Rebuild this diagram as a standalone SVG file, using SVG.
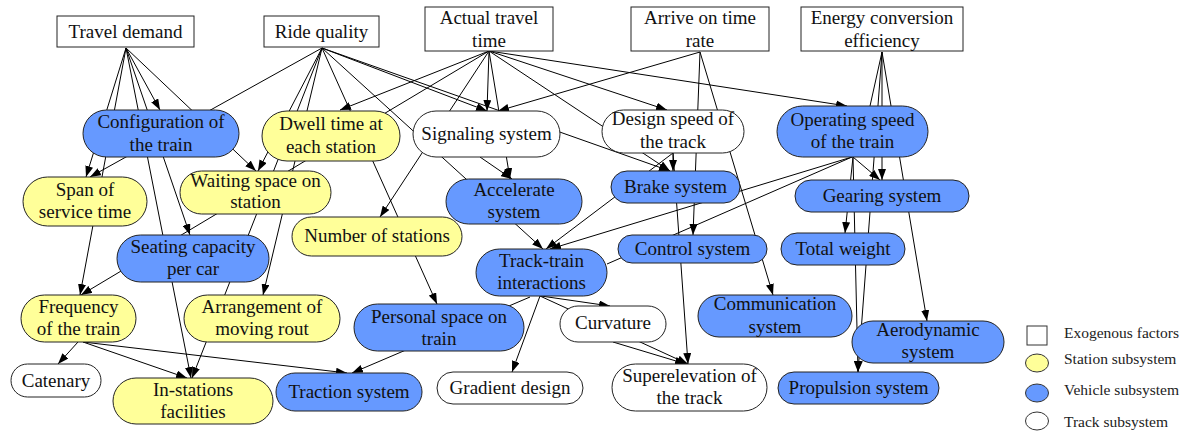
<svg xmlns="http://www.w3.org/2000/svg" width="1189" height="436" viewBox="0 0 1189 436">
<style>
  text { font-family: "Liberation Serif", "Times New Roman", serif; font-size: 19px; fill: #111; text-anchor: middle; }
  .node rect { stroke: #222; stroke-width: 1; }
  .exo { fill: #ffffff; }
  .blue { fill: #6699ff; }
  .yellow { fill: #ffff99; }
  .white { fill: #ffffff; }
  .edges line { stroke: #000; stroke-width: 1; fill: none; }
  .edges line.a { marker-end: url(#arrow); }
  .legend text { font-size: 15.5px; text-anchor: start; fill: #222; }
  .legend rect, .legend ellipse { stroke: #333; stroke-width: 1; }
</style>
<defs>
  <marker id="arrow" markerUnits="userSpaceOnUse" markerWidth="11" markerHeight="8" refX="11" refY="4" orient="auto">
    <path d="M0,0 L11,4 L0,8 z" fill="#000"/>
  </marker>
</defs>
<rect width="1189" height="436" fill="#ffffff"/>

<g id="connectors" class="edges">
  <!-- Travel demand -->
  <line class="a" x1="126" y1="48" x2="86" y2="177"/>
  <line class="a" x1="126" y1="48" x2="80" y2="295"/>
  <line class="a" x1="126" y1="48" x2="191" y2="378"/>
  <line class="a" x1="126" y1="48" x2="190" y2="235"/>
  <line class="a" x1="126" y1="48" x2="160" y2="110"/>
  <line class="a" x1="126" y1="48" x2="256" y2="171"/>
  <!-- Ride quality -->
  <line class="a" x1="322" y1="48" x2="90" y2="177"/>
  <line class="a" x1="322" y1="48" x2="258" y2="171"/>
  <line class="a" x1="322" y1="48" x2="263" y2="295"/>
  <line class="a" x1="322" y1="48" x2="192" y2="378"/>
  <line class="a" x1="322" y1="48" x2="437" y2="304"/>
  <line class="a" x1="322" y1="48" x2="543" y2="249"/>
  <line class="a" x1="322" y1="48" x2="670" y2="171"/>
  <line class="a" x1="322" y1="48" x2="487" y2="111"/>
  <!-- Actual travel time -->
  <line class="a" x1="489" y1="51" x2="340" y2="110"/>
  <line class="a" x1="489" y1="51" x2="81" y2="295"/>
  <line class="a" x1="489" y1="51" x2="380" y2="217"/>
  <line class="a" x1="489" y1="51" x2="487" y2="111"/>
  <line class="a" x1="489" y1="51" x2="510" y2="179"/>
  <line class="a" x1="489" y1="51" x2="667" y2="110"/>
  <line class="a" x1="489" y1="51" x2="670" y2="171"/>
  <line class="a" x1="489" y1="51" x2="847" y2="106"/>
  <!-- Arrive on time rate -->
  <line class="a" x1="700" y1="52" x2="498" y2="111"/>
  <line class="a" x1="700" y1="52" x2="693" y2="235"/>
  <line class="a" x1="700" y1="52" x2="773" y2="295"/>
  <!-- Energy conversion efficiency -->
  <line class="a" x1="882" y1="52" x2="882" y2="180"/>
  <line class="a" x1="882" y1="52" x2="927" y2="321"/>
  <line class="a" x1="882" y1="52" x2="858" y2="372"/>
  <line x1="882" y1="52" x2="870" y2="106"/>
  <!-- Operating speed of the train -->
  <line class="a" x1="853" y1="157" x2="880" y2="180"/>
  <line class="a" x1="853" y1="157" x2="858" y2="372"/>
  <line class="a" x1="853" y1="157" x2="845" y2="233"/>
  <line class="a" x1="852" y1="157" x2="550" y2="249"/>
  <line x1="852" y1="157" x2="607" y2="264"/>
  <!-- Design speed of the track -->
  <line class="a" x1="673" y1="152" x2="673" y2="171"/>
  <line class="a" x1="673" y1="152" x2="688" y2="364"/>
  <line class="a" x1="673" y1="153" x2="546" y2="249"/>
  <!-- Signaling system -->
  <line class="a" x1="480" y1="157" x2="512" y2="179"/>
  <!-- Track-train interactions -->
  <line class="a" x1="540" y1="296" x2="512" y2="372"/>
  <line class="a" x1="541" y1="296" x2="610" y2="306"/>
  <line class="a" x1="540" y1="296" x2="688" y2="364"/>
  <line class="a" x1="530" y1="297" x2="352" y2="373"/>
  <!-- Curvature -->
  <line class="a" x1="613" y1="342" x2="686" y2="364"/>
  <!-- Frequency of the train -->
  <line class="a" x1="78" y1="342" x2="58" y2="364"/>
  <line class="a" x1="83" y1="342" x2="187" y2="378"/>
  <line class="a" x1="83" y1="342" x2="347" y2="373"/>
</g>

<!-- exogenous factors -->
<g id="travel_demand" class="node"><rect class="exo" x="57" y="16" width="137" height="31"/><text x="125.5" y="38">Travel demand</text></g>
<g id="ride_quality" class="node"><rect class="exo" x="264" y="16" width="115" height="31"/><text x="321.5" y="38">Ride quality</text></g>
<g id="actual_travel_time" class="node"><rect class="exo" x="425" y="7" width="128" height="44"/><text x="489" y="23.5">Actual travel</text><text x="489" y="47">time</text></g>
<g id="arrive_on_time_rate" class="node"><rect class="exo" x="631" y="7" width="138" height="44"/><text x="700" y="23.5">Arrive on time</text><text x="700" y="47">rate</text></g>
<g id="energy_conversion" class="node"><rect class="exo" x="801" y="7" width="162" height="44"/><text x="882" y="23.5">Energy conversion</text><text x="882" y="47">efficiency</text></g>

<!-- subsystem nodes -->
<g id="configuration" class="node"><rect class="blue" x="83" y="110" width="156" height="47" rx="23.5"/><text x="161" y="128">Configuration of</text><text x="161" y="150.5">the train</text></g>
<g id="dwell_time" class="node"><rect class="yellow" x="262" y="111" width="138" height="50" rx="25"/><text x="331" y="130">Dwell time at</text><text x="331" y="153">each station</text></g>
<g id="signaling" class="node"><rect class="white" x="413" y="111" width="147" height="46" rx="23"/><text x="486.5" y="139.5">Signaling system</text></g>
<g id="design_speed" class="node"><rect class="white" x="602" y="110" width="142" height="43" rx="21.5"/><text x="673" y="125">Design speed of</text><text x="673" y="148">the track</text></g>
<g id="operating_speed" class="node"><rect class="blue" x="777" y="106" width="151" height="51" rx="25.5"/><text x="852.5" y="126">Operating speed</text><text x="852.5" y="148">of the train</text></g>
<g id="span_of_service" class="node"><rect class="yellow" x="23" y="177" width="124" height="49" rx="24.5"/><text x="85" y="196">Span of</text><text x="85" y="218">service time</text></g>
<g id="waiting_space" class="node"><rect class="yellow" x="180" y="171" width="151" height="43" rx="21.5"/><text x="255.5" y="187">Waiting space on</text><text x="255.5" y="208">station</text></g>
<g id="accelerate" class="node"><rect class="blue" x="446" y="179" width="136" height="45" rx="22.5"/><text x="514" y="196">Accelerate</text><text x="514" y="218">system</text></g>
<g id="brake" class="node"><rect class="blue" x="611" y="171" width="129" height="32" rx="16"/><text x="675.5" y="193">Brake system</text></g>
<g id="gearing" class="node"><rect class="blue" x="795" y="180" width="174" height="32" rx="16"/><text x="882" y="202">Gearing system</text></g>
<g id="number_of_stations" class="node"><rect class="yellow" x="292" y="217" width="170" height="39" rx="19.5"/><text x="377" y="242">Number of stations</text></g>
<g id="seating_capacity" class="node"><rect class="blue" x="117" y="235" width="152" height="47" rx="23.5"/><text x="193" y="253">Seating capacity</text><text x="193" y="275">per car</text></g>
<g id="total_weight" class="node"><rect class="blue" x="781" y="233" width="124" height="32" rx="16"/><text x="843" y="255">Total weight</text></g>
<g id="control" class="node"><rect class="blue" x="618" y="235" width="149" height="28" rx="14"/><text x="692.5" y="255">Control system</text></g>
<g id="track_train" class="node"><rect class="blue" x="476" y="249" width="131" height="47" rx="23.5"/><text x="541.5" y="267">Track-train</text><text x="541.5" y="289">interactions</text></g>
<g id="frequency" class="node"><rect class="yellow" x="21" y="295" width="115" height="47" rx="23.5"/><text x="78.5" y="313">Frequency</text><text x="78.5" y="335">of the train</text></g>
<g id="arrangement" class="node"><rect class="yellow" x="184" y="295" width="156" height="47" rx="23.5"/><text x="262" y="313">Arrangement of</text><text x="262" y="335">moving rout</text></g>
<g id="communication" class="node"><rect class="blue" x="698" y="295" width="154" height="42" rx="21"/><text x="775" y="310">Communication</text><text x="775" y="333">system</text></g>
<g id="personal_space" class="node"><rect class="blue" x="354" y="304" width="170" height="47" rx="23.5"/><text x="439" y="323">Personal space on</text><text x="439" y="344.5">train</text></g>
<g id="curvature" class="node"><rect class="white" x="560" y="306" width="106" height="36" rx="18"/><text x="613" y="329">Curvature</text></g>
<g id="aerodynamic" class="node"><rect class="blue" x="852" y="321" width="152" height="42" rx="21"/><text x="928" y="336">Aerodynamic</text><text x="928" y="358">system</text></g>
<g id="catenary" class="node"><rect class="white" x="11" y="364" width="90" height="33" rx="16.5"/><text x="56" y="387">Catenary</text></g>
<g id="in_stations" class="node"><rect class="yellow" x="113" y="378" width="160" height="46" rx="23"/><text x="193" y="396">In-stations</text><text x="193" y="418">facilities</text></g>
<g id="traction" class="node"><rect class="blue" x="276" y="373" width="146" height="38" rx="19"/><text x="349" y="398">Traction system</text></g>
<g id="gradient" class="node"><rect class="white" x="437" y="372" width="146" height="32" rx="16"/><text x="510" y="394">Gradient design</text></g>
<g id="superelevation" class="node"><rect class="white" x="612" y="364" width="155" height="47" rx="23.5"/><text x="689.5" y="382">Superelevation of</text><text x="689.5" y="404">the track</text></g>
<g id="propulsion" class="node"><rect class="blue" x="778" y="372" width="161" height="32" rx="16"/><text x="858.5" y="394">Propulsion system</text></g>

<!-- key -->
<g id="legend" class="legend">
  <rect class="white" x="1027" y="326" width="20" height="19"/>
  <text x="1064" y="338">Exogenous factors</text>
  <ellipse class="yellow" cx="1037" cy="363" rx="11.5" ry="9"/>
  <text x="1064" y="364">Station subsystem</text>
  <ellipse class="blue" cx="1037" cy="393" rx="11.5" ry="9"/>
  <text x="1064" y="395">Vehicle subsystem</text>
  <ellipse class="white" cx="1037" cy="421" rx="11.5" ry="9"/>
  <text x="1064" y="427">Track subsystem</text>
</g>
</svg>
